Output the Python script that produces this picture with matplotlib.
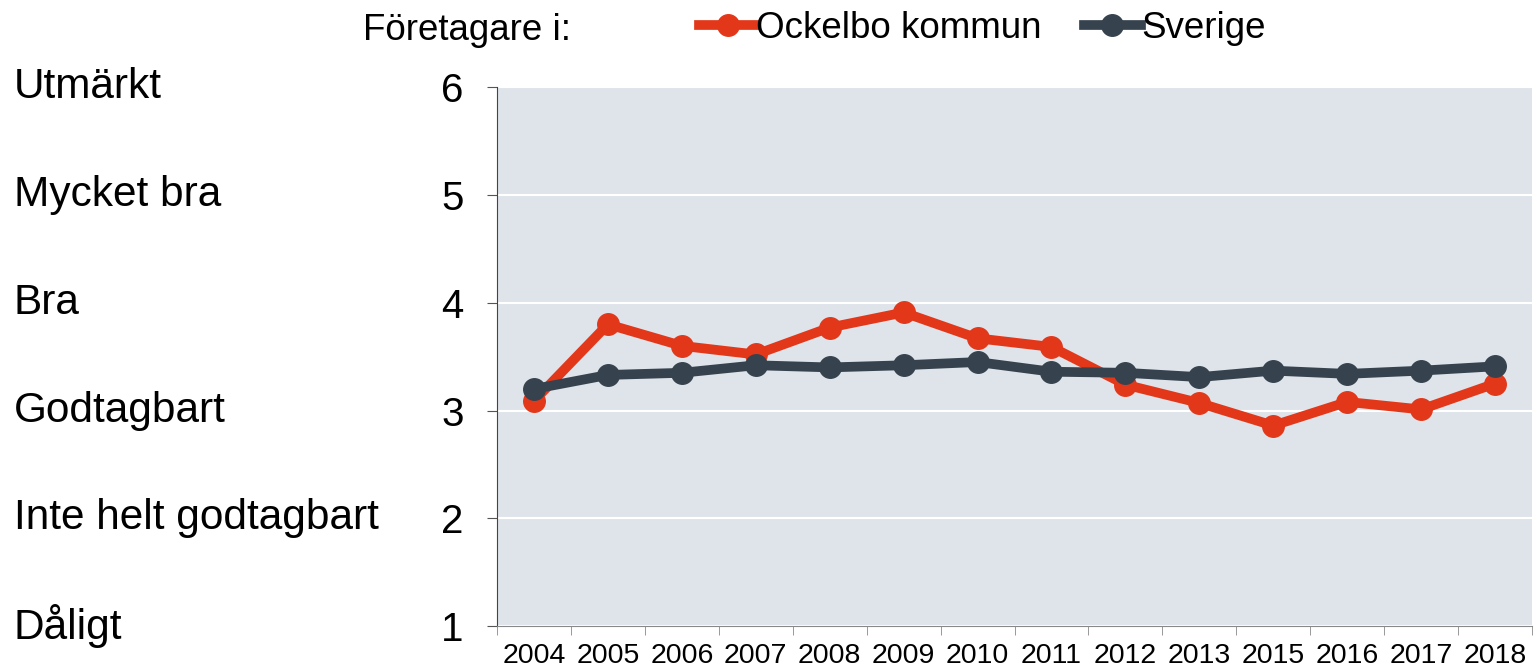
import matplotlib.pyplot as plt
import numpy as np

plt.rcParams['font.family'] = ['Liberation Sans', 'DejaVu Sans']

# data
years = ['2004', '2005', '2006', '2007', '2008', '2009', '2010', '2011',
         '2012', '2013', '2015', '2016', '2017', '2018']
ockelbo = [3.09, 3.80, 3.60, 3.52, 3.77, 3.91, 3.67, 3.59, 3.24, 3.07, 2.86, 3.08, 3.01, 3.25]
sverige = [3.20, 3.33, 3.35, 3.42, 3.40, 3.42, 3.45, 3.36, 3.35, 3.31, 3.37, 3.34, 3.37, 3.41]
grade_labels = ['Dåligt', 'Inte helt godtagbart', 'Godtagbart', 'Bra', 'Mycket bra', 'Utmärkt']
grade_values = [1, 2, 3, 4, 5, 6]

red = '#E3371A'
dark = '#36434F'

fig = plt.figure(figsize=(15.34, 6.71), dpi=100)
ax = fig.add_axes([0.324, 0.067, 0.6747, 0.803])
ax.set_facecolor('#DEE4EA')

x = np.arange(len(years))
ax.plot(x, ockelbo, color=red, lw=7, marker='o', ms=15.5, label='Ockelbo kommun', zorder=3)
ax.plot(x, sverige, color=dark, lw=7, marker='o', ms=15.5, label='Sverige', zorder=4)

ax.set_xlim(-0.5, len(years) - 0.5)
ax.set_ylim(1, 6)
ax.set_yticks(grade_values)
ax.tick_params(axis='y', labelsize=29, length=7, color='#555555', pad=17)
ax.grid(axis='y', color='white', lw=1.5)
ax.set_axisbelow(True)

ax.set_xticks(x)
ax.set_xticklabels(years, fontsize=20.5)
ax.tick_params(axis='x', length=0, pad=12)
ax.set_xticks(np.arange(-0.5, len(years) + 0.5, 1), minor=True)
ax.tick_params(axis='x', which='minor', length=6.5, color='#888888')

for s in ['top', 'right']:
    ax.spines[s].set_visible(False)
ax.spines['left'].set_color('#444444')
ax.spines['bottom'].set_color('#888888')

# grade names on the left
for v, name in zip(grade_values, grade_labels):
    ax.text(-0.4667, v, name, transform=ax.get_yaxis_transform(), fontsize=30.5,
            va='center', ha='left', clip_on=False)

fig.text(0.2366, 0.954, 'Företagare i:', fontsize=26.5, va='center', ha='left')
fig.legend(loc='center left', bbox_to_anchor=(0.4557, 0.957), ncol=2, frameon=False,
           fontsize=26.5, handlelength=1.55, handletextpad=0.0, columnspacing=1.15,
           borderaxespad=0, borderpad=0)

fig.savefig('out.png', dpi=100)
